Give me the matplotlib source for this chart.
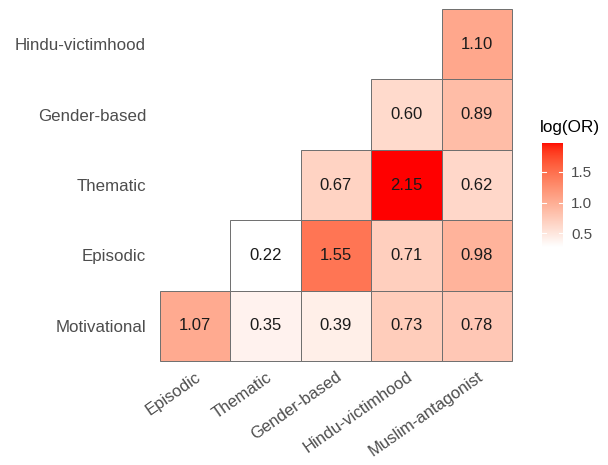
import numpy as np
import matplotlib
matplotlib.use("Agg")
import matplotlib.pyplot as plt
from matplotlib.colors import ListedColormap, Normalize
from matplotlib.patches import Rectangle

# ---- data ----
x_labels = ["Episodic", "Thematic", "Gender-based", "Hindu-victimhood", "Muslim-antagonist"]
y_labels = ["Motivational", "Episodic", "Thematic", "Gender-based", "Hindu-victimhood"]
row_motivational = [1.07, 0.35, 0.39, 0.73, 0.78]
row_episodic = [np.nan, 0.22, 1.55, 0.71, 0.98]
row_thematic = [np.nan, np.nan, 0.67, 2.15, 0.62]
row_gender = [np.nan, np.nan, np.nan, 0.60, 0.89]
row_hindu = [np.nan, np.nan, np.nan, np.nan, 1.10]
legend_ticks = [0.5, 1.0, 1.5]

values = np.array([row_motivational, row_episodic, row_thematic, row_gender, row_hindu])
vmin, vmax = np.nanmin(values), np.nanmax(values)

# ---- white -> red gradient interpolated in Lab (like ggplot2) ----
def srgb_to_lin(c):
    c = np.asarray(c, float)
    return np.where(c <= 0.04045, c / 12.92, ((c + 0.055) / 1.055) ** 2.4)

def lin_to_srgb(c):
    c = np.clip(c, 0, 1)
    return np.where(c <= 0.0031308, 12.92 * c, 1.055 * c ** (1 / 2.4) - 0.055)

M = np.array([[0.4124, 0.3576, 0.1805], [0.2126, 0.7152, 0.0722], [0.0193, 0.1192, 0.9505]])
Minv = np.linalg.inv(M)
white_ref = M @ np.ones(3)

def f(t):
    d = 6 / 29
    return np.where(t > d ** 3, np.cbrt(t), t / (3 * d ** 2) + 4 / 29)

def finv(t):
    d = 6 / 29
    return np.where(t > d, t ** 3, 3 * d ** 2 * (t - 4 / 29))

def rgb_to_lab(rgb):
    xyz = M @ srgb_to_lin(rgb) / white_ref
    fx, fy, fz = f(xyz)
    return np.array([116 * fy - 16, 500 * (fx - fy), 200 * (fy - fz)])

def lab_to_rgb(lab):
    L, a, b = lab
    fy = (L + 16) / 116
    fx = fy + a / 500
    fz = fy - b / 200
    xyz = np.array([finv(fx), finv(fy), finv(fz)]) * white_ref
    return lin_to_srgb(Minv @ xyz)

lab_lo = rgb_to_lab([1, 1, 1])
lab_hi = rgb_to_lab([1, 0, 0])
cols = [lab_to_rgb(lab_lo + (lab_hi - lab_lo) * t) for t in np.linspace(0, 1, 256)]
cmap = ListedColormap(np.clip(cols, 0, 1))
norm = Normalize(vmin=vmin, vmax=vmax)

plt.rcParams["font.family"] = ["Liberation Sans", "DejaVu Sans"]

fig = plt.figure(figsize=(6.08, 4.65), dpi=100)
ax = fig.add_axes([160 / 608, (465 - 361) / 465, 352 / 608, 352 / 465])

n_rows, n_cols = values.shape
for i in range(n_rows):
    for j in range(n_cols):
        v = values[i, j]
        if not np.isnan(v):
            ax.add_patch(Rectangle((j, i), 1, 1, facecolor=cmap(norm(v)),
                                   edgecolor="#6e6e6e", linewidth=0.7, clip_on=False))
            ax.text(j + 0.5, i + 0.5, f"{v:.2f}", ha="center", va="center",
                    fontsize=12, color="#1a1a1a")

ax.set_xlim(0, n_cols)
ax.set_ylim(0, n_rows)
ax.set_xticks(np.arange(n_cols) + 0.5)
ax.set_xticklabels(x_labels, rotation=35, ha="right", va="top", rotation_mode="anchor",
                   fontsize=12, color="#4d4d4d")
ax.set_yticks(np.arange(n_rows) + 0.5)
ax.set_yticklabels(y_labels, fontsize=12.2, color="#4d4d4d")
ax.tick_params(axis="y", length=0, pad=10)
ax.tick_params(axis="x", length=0, pad=6)
for s in ax.spines.values():
    s.set_visible(False)

# ---- legend colorbar ----
bar_lo, bar_hi = 0.28, 1.97
cax = fig.add_axes([542 / 608, (465 - 247) / 465, 21 / 608, 104 / 465])
grad = np.linspace(bar_lo, bar_hi, 300).reshape(-1, 1)
cax.imshow(grad, extent=[0, 1, bar_lo, bar_hi], origin="lower", aspect="auto", cmap=cmap,
           norm=Normalize(vmin=bar_lo, vmax=bar_hi), interpolation="bilinear")
cax.set_xlim(0, 1)
cax.set_ylim(bar_lo, bar_hi)
for t in legend_ticks:
    cax.plot([0, 0.2], [t, t], color="white", lw=0.8)
    cax.plot([0.8, 1], [t, t], color="white", lw=0.8)
cax.set_xticks([])
cax.yaxis.tick_right()
cax.set_yticks(legend_ticks)
cax.set_yticklabels([f"{t:.1f}" for t in legend_ticks], fontsize=11, color="#4d4d4d")
cax.tick_params(length=0, pad=6)
for s in cax.spines.values():
    s.set_visible(False)
fig.text(540 / 608, 1 - 127 / 465, "log(OR)", fontsize=12.3, color="black", ha="left", va="center")

fig.savefig("out.png", dpi=100)
